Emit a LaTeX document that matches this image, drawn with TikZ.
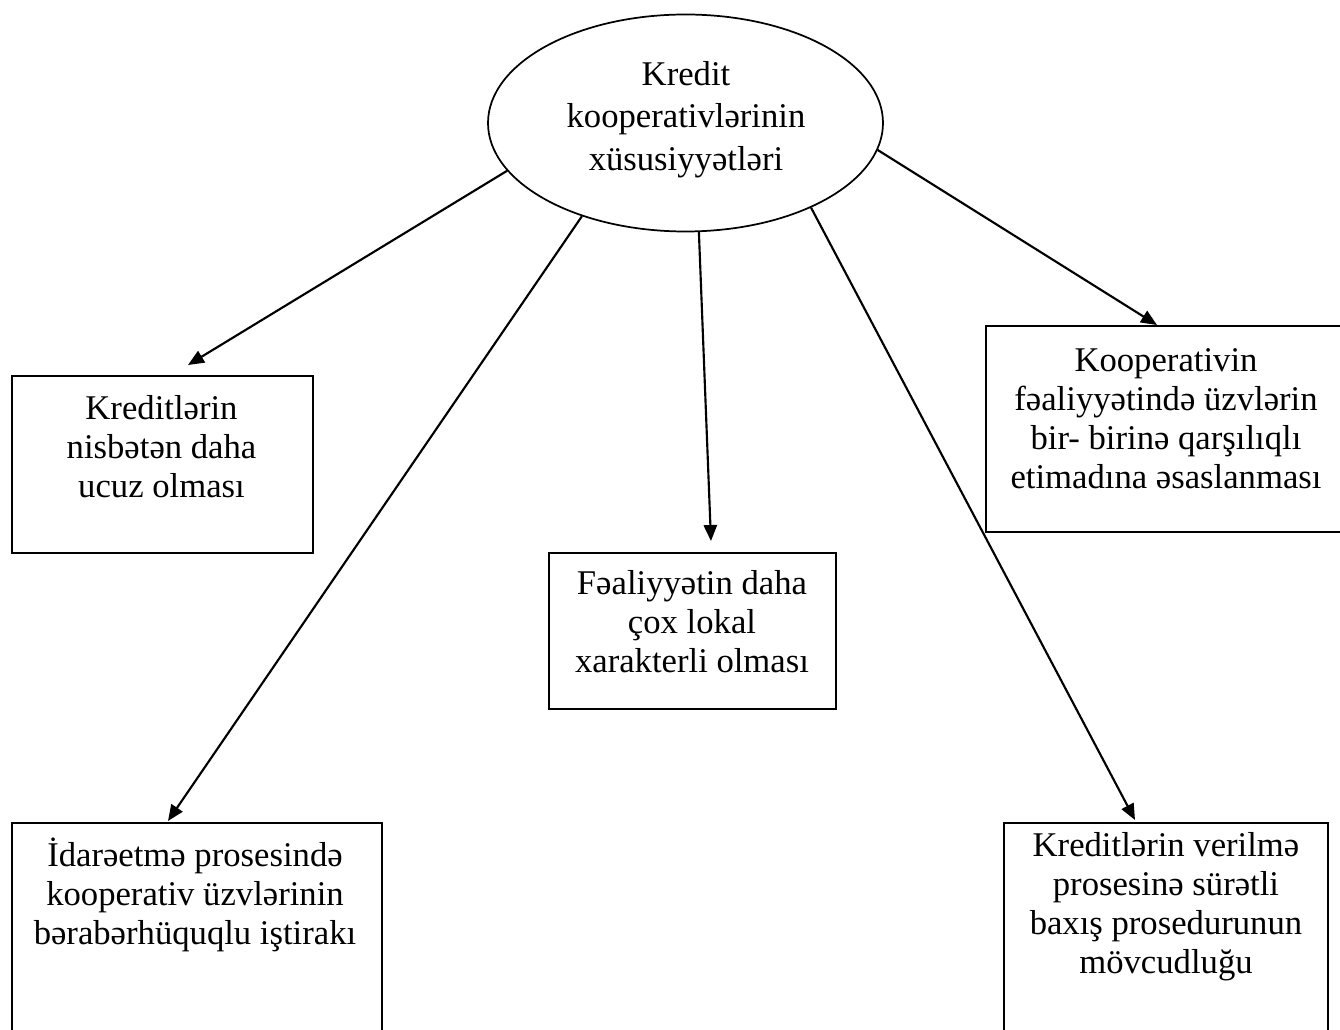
\documentclass[tikz,border=0pt]{standalone}
\usepackage{fontspec}
\setmainfont{Liberation Serif}
\usetikzlibrary{arrows.meta,shapes.geometric}
\newcommand\fstrut{\rule{0pt}{25pt}}
\tikzset{
  boxnode/.style={draw, line width=1.6pt, rectangle, inner sep=0pt, anchor=north west},
  txt/.style={inner sep=0pt, anchor=north, align=center, font=\fontsize{26}{29.3}\selectfont},
  arr/.style={line width=1.6pt, -{Triangle[length=12pt,width=10pt]}}
}
\begin{document}
\begin{tikzpicture}[x=0.75pt,y=-0.75pt]
\useasboundingbox (0,0) rectangle (1340,1030);
\clip (0,0) rectangle (1340,1030);
\fill[white] (0,0) rectangle (1340,1030);
% ellipse
\node[ellipse, draw, line width=1.3pt, minimum width=296.25pt, minimum height=162.75pt, inner sep=0pt] (E) at (685.5,123) {};
\node[txt, font=\fontsize{26}{32}\selectfont] (Et) at (686,51.7) {\fstrut Kredit\\kooperativlərinin\\xüsusiyyətləri};
% boxes
\node[boxnode, minimum width=225.75pt, minimum height=132.75pt] (b1) at (11,375) {};
\node[boxnode, minimum width=271.5pt, minimum height=154.5pt] (b2) at (985,325) {};
\node[boxnode, minimum width=215.25pt, minimum height=117pt] (b3) at (548,552) {};
\node[boxnode, minimum width=277.5pt, minimum height=167.25pt] (b4) at (11,822) {};
\node[boxnode, minimum width=243pt, minimum height=167.25pt] (b5) at (1003,822) {};
% texts
\node[txt] (t1) at (161.5,385.7) {\fstrut Kreditlərin\\nisbətən daha\\ucuz olması};
\node[txt] (t2) at (1166,337.7) {\fstrut Kooperativin\\fəaliyyətində üzvlərin\\bir- birinə qarşılıqlı\\etimadına əsaslanması};
\node[txt] (t3) at (692,560.7) {\fstrut Fəaliyyətin daha\\çox lokal\\xarakterli olması};
\node[txt] (t4) at (195,832.7) {\fstrut İdarəetmə prosesində\\kooperativ üzvlərinin\\bərabərhüquqlu iştirakı};
\node[txt] (t5) at (1166,822.7) {\fstrut Kreditlərin verilmə\\prosesinə sürətli\\baxış prosedurunun\\mövcudluğu};
% arrow tips
\coordinate (p1) at (188,365);
\coordinate (p2) at (1157,325);
\coordinate (p3) at (711,541);
\coordinate (p4) at (168,821);
\coordinate (p5) at (1135,820);
% connectors
\draw[arr] (E.195.8) -- (p1);
\draw[arr] (E.222.5) -- (p4);
\draw[arr] (E.277.1) -- (p3);
\draw[arr] (E.326.8) -- (p5);
\draw[arr] (E.352.5) -- (p2);
\end{tikzpicture}
\end{document}
